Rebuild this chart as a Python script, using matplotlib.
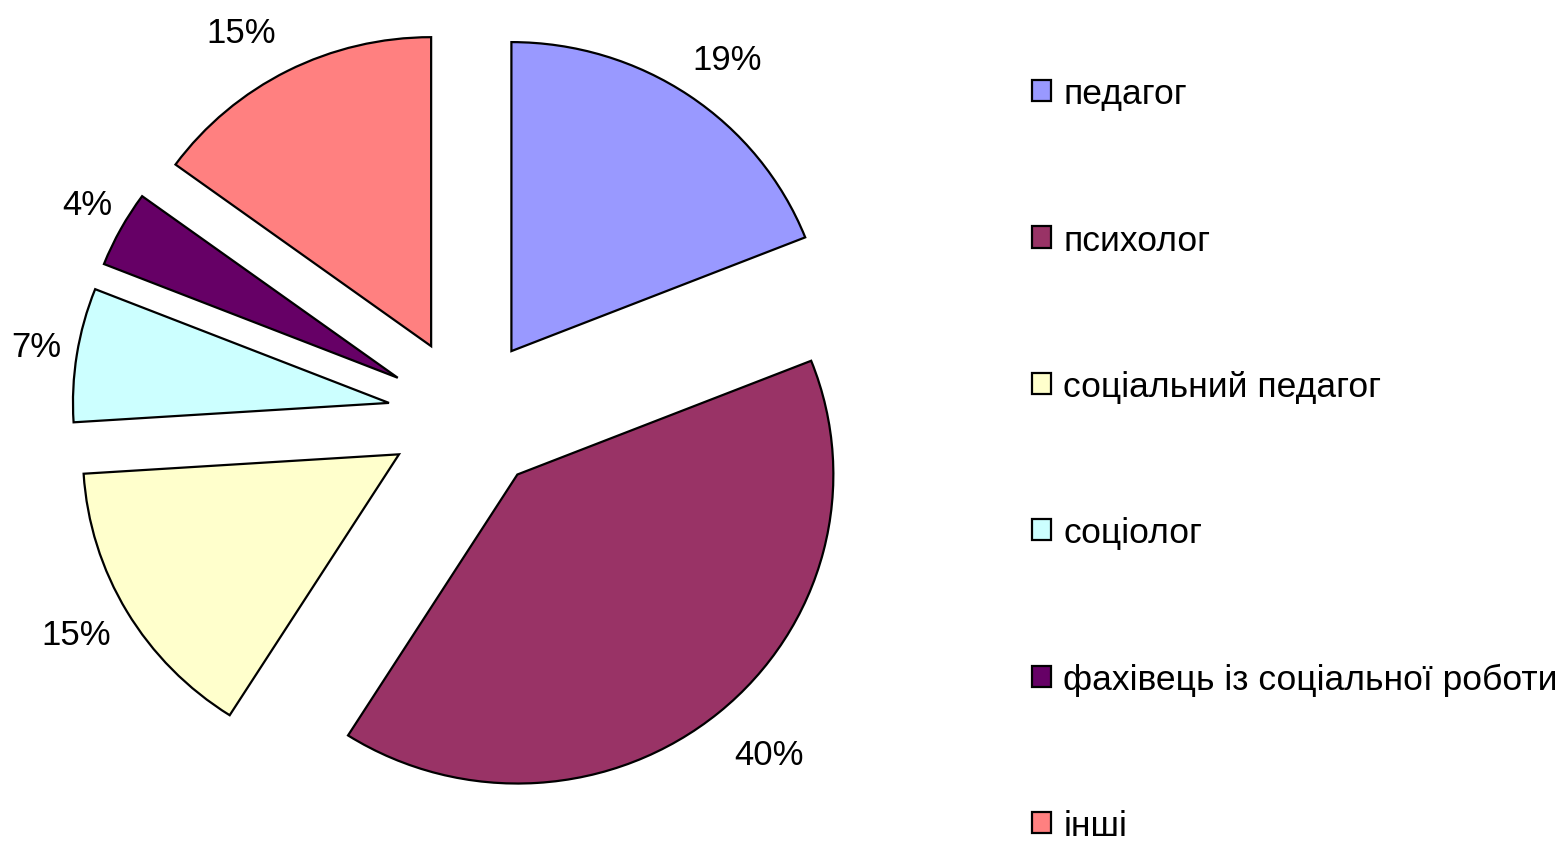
import matplotlib.pyplot as plt
from matplotlib.patches import Patch

plt.rcParams['font.family'] = ['Liberation Sans', 'DejaVu Sans']

categories = ['педагог', 'психолог', 'соціальний педагог', 'соціолог',
              'фахівець із соціальної роботи', 'інші']
shares = [19, 40, 15, 7, 4, 15]
colors = ['#9999FF', '#993366', '#FFFFCC', '#CCFFFF', '#660066', '#FF8080']

# small nudges (px, right/down) so the % labels sit where Excel put them
label_nudge = [(8, 7), (16, 1), (-5, -4), (13, 0), (14, 1), (-22, 8)]

fig = plt.figure(figsize=(15.66, 8.45), dpi=100)
ax = fig.add_axes([0, 0, 1, 1])

# pie: start at 12 o'clock, clockwise, every slice pulled out
wedges, texts, autotexts = ax.pie(
    shares, colors=colors, startangle=90, counterclock=False,
    explode=[0.25] * len(shares), autopct='%1.0f%%', pctdistance=1.17,
    wedgeprops=dict(edgecolor='black', linewidth=1.6),
    textprops=dict(fontsize=25, color='black'))

# centre/radius as in the reference (px -> data units), pie is a touch wider than tall
rx_px, ry_px = 316.0, 309.0
cx, cy = 467.0, 416.0
ax.set_xlim(-cx / rx_px, (1566 - cx) / rx_px)
ax.set_ylim(-(845 - cy) / ry_px, cy / ry_px)
ax.set_aspect('auto')
ax.axis('off')

for t, (dx, dy) in zip(autotexts, label_nudge):
    x, y = t.get_position()
    t.set_position((x + dx / rx_px, y - dy / ry_px))

handles = [Patch(facecolor=c, edgecolor='black', linewidth=1.6) for c in colors]
fig.legend(handles, categories, loc='upper left', bbox_to_anchor=(0.659, 0.9073),
           frameon=False, fontsize=25.5, borderpad=0, borderaxespad=0,
           handlelength=0.55, handleheight=0.55, handletextpad=0.33,
           labelspacing=3.2)

fig.savefig('out.png', dpi=100, facecolor='white')
